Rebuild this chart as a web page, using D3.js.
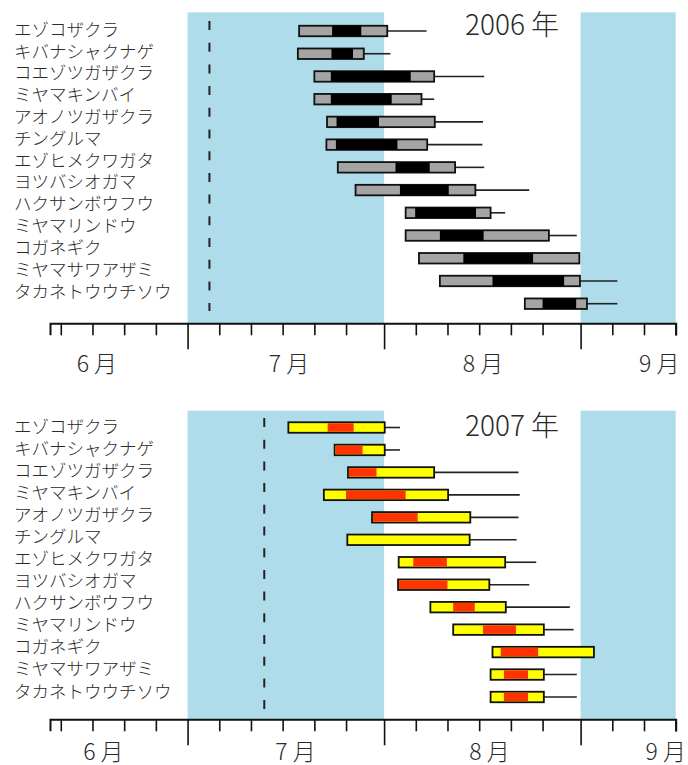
<!DOCTYPE html>
<html>
<head>
<meta charset="utf-8">
<script src="https://cdn.jsdelivr.net/npm/d3@7"></script>
<style>
    body { margin: 0; background: #fff; }
    svg text { font-family: "Noto Sans CJK JP", "Noto Sans", sans-serif; fill: #2a2a2a; font-weight: 300; }
</style>
</head>
<body>
<div id="chart"></div>
<script>
// species, top to bottom
const species = [
    "エゾコザクラ", "キバナシャクナゲ", "コエゾツガザクラ", "ミヤマキンバイ",
    "アオノツガザクラ", "チングルマ", "エゾヒメクワガタ", "ヨツバシオガマ",
    "ハクサンボウフウ", "ミヤマリンドウ", "コガネギク", "ミヤマサワアザミ",
    "タカネトウウチソウ"
];

// days after 1 July: [bloom start, peak start, peak end, bloom end, tail end]
const rows2006 = [
    [17.6, 22.8, 27.4, 31.5, 37.7],
    [17.4, 22.7, 26.1, 27.8, 32.0],
    [20.0, 22.6, 35.2, 38.9, 46.8],
    [20.0, 22.6, 32.2, 36.9, 38.9],
    [22.0, 23.5, 30.2, 39.0, 46.6],
    [21.9, 23.4, 33.1, 37.8, 46.5],
    [23.7, 32.8, 38.2, 42.2, 46.8],
    [26.5, 33.5, 41.2, 45.4, 53.9],
    [34.4, 35.9, 45.5, 47.8, 50.1],
    [34.4, 39.8, 46.7, 57.0, 61.4],
    [36.5, 43.5, 54.5, 61.8, null],
    [39.8, 48.1, 59.4, 61.9, 67.8],
    [53.2, 56.0, 61.3, 63.0, 67.8]
];

const rows2007 = [
    [15.9, 22.1, 26.2, 31.1, 33.5],
    [23.2, 23.2, 27.6, 31.1, 33.5],
    [25.3, 25.3, 29.8, 38.9, 52.2],
    [21.5, 25.0, 34.4, 41.1, 52.4],
    [29.1, 29.1, 36.3, 44.6, 52.2],
    [25.2, null, null, 44.5, 51.9],
    [33.3, 35.6, 40.9, 50.1, 55.0],
    [33.2, 33.2, 41.0, 47.6, 53.9],
    [38.3, 41.9, 45.3, 50.2, 60.3],
    [41.9, 46.6, 51.8, 56.2, 60.9],
    [48.1, 49.4, 55.3, 64.1, null],
    [47.8, 49.9, 53.7, 56.2, 61.4],
    [47.8, 49.9, 53.7, 56.2, 61.4]
];

// dashed line (days after 1 July)
const snowMelt = [3.45, 12.1];
const years = ["2006 年", "2007 年"];

// axis: first day of each month (days after 1 July) and labels
const monthStarts = [-30, 0, 31, 62];
const monthLabels = ["6 月", "7 月", "8 月", "9 月"];
const monthLabelDays = [-14.3, 16.0, 46.6, 74.4];
const shadedMonths = [[0, 31], [62, 77]];

const width = 688;
const height = 765;

const colors = [
    { box: "#a4a4a4", peak: "#000000" },
    { box: "#ffff00", peak: "#ff3300" }
];

const panels = [
    { top: 12.3, axisY: 323.3, barY0: 31, barY1: 303.7, labelY0: 28.3, labelY1: 290,
      titleY: 35, dashTop: 21, dashBottom: 311, monthY: 371.5, monthDx: 0 },
    { top: 410.7, axisY: 719.3, barY0: 427.5, barY1: 697, labelY0: 425, labelY1: 690,
      titleY: 436, dashTop: 418, dashBottom: 709, monthY: 760, monthDx: 6.5 }
];

const x = d3.scaleLinear()
    .domain([-21.7, 77])
    .range([50, 675.7]);

const tickDays = [];
monthStarts.forEach(m => {
    [0, 5, 10, 15, 20, 25].forEach(k => {
        const d = m + k;
        if (d >= x.domain()[0] && d <= x.domain()[1]) tickDays.push(d);
    });
});
tickDays.push(77);

const svg = d3.select("#chart")
    .append("svg")
    .attr("width", width)
    .attr("height", height)
    .attr("viewBox", `0 0 ${width} ${height}`);

const allRows = [rows2006, rows2007];
const barH = 10.5;

panels.forEach((p, pi) => {
    const g = svg.append("g");
    const rows = allRows[pi];

    const yBar = d3.scalePoint().domain(species).range([p.barY0, p.barY1]);
    const yLabel = d3.scalePoint().domain(species).range([p.labelY0, p.labelY1]);

    // shaded months
    g.selectAll(".band")
        .data(shadedMonths)
        .join("rect")
            .attr("class", "band")
            .attr("x", d => x(d[0]))
            .attr("y", p.top)
            .attr("width", d => x(d[1]) - x(d[0]))
            .attr("height", p.axisY - p.top)
            .attr("fill", "#aedcea");

    // dashed line
    g.append("line")
        .attr("x1", x(snowMelt[pi]))
        .attr("x2", x(snowMelt[pi]))
        .attr("y1", p.dashTop)
        .attr("y2", p.dashBottom)
        .attr("stroke", "#222")
        .attr("stroke-width", 2)
        .attr("stroke-dasharray", "9,12.7");

    // year title
    g.append("text")
        .attr("x", 512)
        .attr("y", p.titleY)
        .attr("text-anchor", "middle")
        .style("font-size", "28px")
        .text(years[pi]);

    // species labels
    g.selectAll(".sp-label")
        .data(species)
        .join("text")
            .attr("class", "sp-label")
            .attr("x", 14)
            .attr("y", d => yLabel(d))
            .attr("dominant-baseline", "central")
            .style("font-size", "17.5px")
            .text(d => d);

    const data = rows.map((r, i) => ({
        name: species[i],
        start: r[0], peakStart: r[1], peakEnd: r[2], end: r[3], tail: r[4]
    }));

    // tails
    g.selectAll(".tail")
        .data(data.filter(d => d.tail !== null))
        .join("line")
            .attr("class", "tail")
            .attr("x1", d => x(d.end))
            .attr("x2", d => x(d.tail))
            .attr("y1", d => yBar(d.name))
            .attr("y2", d => yBar(d.name))
            .attr("stroke", "#222")
            .attr("stroke-width", 1.6);

    // bloom boxes
    g.selectAll(".box")
        .data(data)
        .join("rect")
            .attr("class", "box")
            .attr("x", d => x(d.start))
            .attr("y", d => yBar(d.name) - barH / 2)
            .attr("width", d => x(d.end) - x(d.start))
            .attr("height", barH)
            .attr("fill", colors[pi].box)
            .attr("stroke", "#111")
            .attr("stroke-width", 1.8);

    // peak segment
    const inset = pi === 0 ? 0 : 1;
    g.selectAll(".peak")
        .data(data.filter(d => d.peakStart !== null))
        .join("rect")
            .attr("class", "peak")
            .attr("x", d => x(d.peakStart) + (d.peakStart === d.start ? 1 : 0))
            .attr("y", d => yBar(d.name) - barH / 2 + inset)
            .attr("width", d => x(d.peakEnd) - x(d.peakStart) - (d.peakStart === d.start ? 1 : 0))
            .attr("height", barH - 2 * inset)
            .attr("fill", colors[pi].peak);

    // axis
    const axis = d3.axisBottom(x)
        .tickValues(tickDays)
        .tickFormat("")
        .tickSizeOuter(0)
        .tickSize(12);

    const ax = g.append("g")
        .attr("transform", `translate(0,${p.axisY})`)
        .call(axis);

    ax.select(".domain")
        .attr("stroke", "#111")
        .attr("stroke-width", 2);

    ax.selectAll(".tick line")
        .attr("stroke", "#111")
        .attr("stroke-width", 1.6)
        .attr("y2", d => monthStarts.includes(d) ? 26 : 12);

    // month labels
    g.selectAll(".month")
        .data(monthLabels)
        .join("text")
            .attr("class", "month")
            .attr("x", (d, i) => x(monthLabelDays[i]) + p.monthDx)
            .attr("y", p.monthY)
            .attr("text-anchor", "middle")
            .style("font-size", "23px")
            .text(d => d);
});
</script>
</body>
</html>
